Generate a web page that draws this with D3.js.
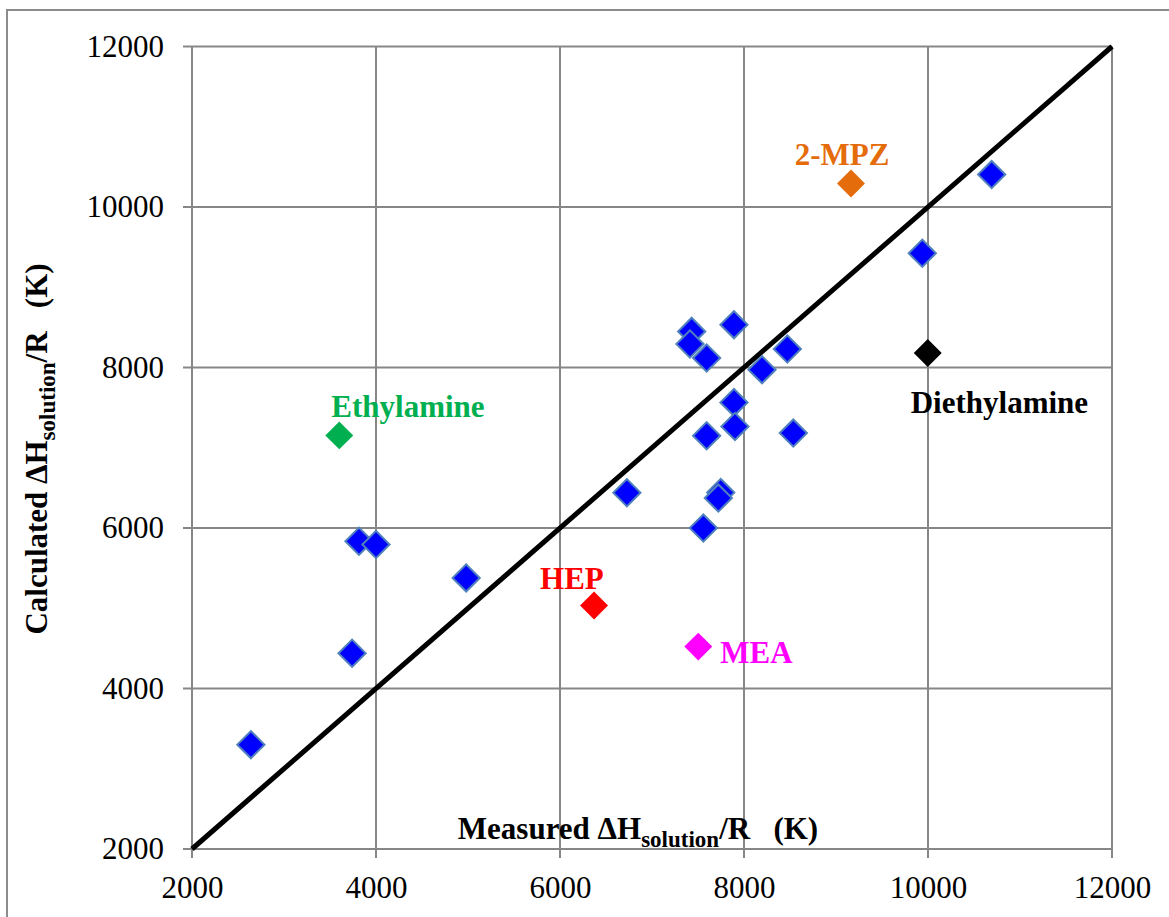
<!DOCTYPE html>
<html>
<head>
<meta charset="utf-8">
<script src="https://cdn.jsdelivr.net/npm/d3@7"></script>
<style>
  html, body { margin: 0; padding: 0; background: #fff; }
  svg { display: block; }
  text { font-family: "Liberation Serif", "Times New Roman", serif; }
</style>
</head>
<body>
<svg id="chart" width="1169" height="917"></svg>
<script>
// Measured vs calculated heat of solution (ΔH/R, K) for the amine set
const measuredBlue   = [2640, 3740, 3815, 4000, 4980, 6727, 7431, 7413, 7594, 7891, 8471, 8196, 7891, 7902, 7594, 8536, 7747, 7721, 7558, 9938, 10692];
const calculatedBlue = [3300, 4440, 5835, 5795, 5378, 6440, 8450, 8293, 8118, 8534, 8231, 7973, 7565, 7266, 7150, 7183, 6443, 6373, 5999, 9423, 10404];

// Highlighted amines
const namedLabels     = ["2-MPZ", "Ethylamine", "Diethylamine", "HEP", "MEA"];
const namedMeasured   = [9163, 3601, 9997, 6370, 7503];
const namedCalculated = [10292, 7154, 8181, 5034, 4522];
const namedColors     = ["#E46C0A", "#00B050", "#000000", "#FF0000", "#FF00FF"];

// Parity line and tick values
const parityLine = [2000, 12000];
const tickValues = [2000, 4000, 6000, 8000, 10000, 12000];

const svg = d3.select("#chart");

// outer chart frame
svg.append("rect")
  .attr("x", 7).attr("y", 10)
  .attr("width", 1200).attr("height", 950)
  .attr("fill", "none").attr("stroke", "#8c8c8c").attr("stroke-width", 2);

const x = d3.scaleLinear().domain([2000, 12000]).range([192, 1112]);
const y = d3.scaleLinear().domain([2000, 12000]).range([849, 46.5]);

const gridColor = "#878787";

// gridlines
svg.append("g").selectAll("line.vgrid").data(tickValues).join("line")
  .attr("x1", d => x(d)).attr("x2", d => x(d))
  .attr("y1", y(12000)).attr("y2", y(2000) + 9)
  .attr("stroke", gridColor).attr("stroke-width", 2);
svg.append("g").selectAll("line.hgrid").data(tickValues).join("line")
  .attr("x1", x(2000) - 9).attr("x2", x(12000))
  .attr("y1", d => y(d)).attr("y2", d => y(d))
  .attr("stroke", gridColor).attr("stroke-width", 2);

// axes (labels only; lines come from the grid)
const xAxis = svg.append("g")
  .attr("transform", `translate(0,${y(2000)})`)
  .call(d3.axisBottom(x).tickValues(tickValues).tickSize(0).tickPadding(27).tickFormat(d3.format("d")));
const yAxis = svg.append("g")
  .attr("transform", `translate(${x(2000)},0)`)
  .call(d3.axisLeft(y).tickValues(tickValues).tickSize(0).tickPadding(28).tickFormat(d3.format("d")));
[xAxis, yAxis].forEach(a => {
  a.select(".domain").remove();
  a.selectAll("text")
    .attr("font-family", "'Liberation Serif', 'Times New Roman', serif")
    .attr("font-size", 31).attr("fill", "#000");
});

// parity line y = x
svg.append("path")
  .datum(parityLine)
  .attr("d", d3.line().x(d => x(d)).y(d => y(d)))
  .attr("stroke", "#000").attr("stroke-width", 5).attr("fill", "none");

// diamond markers
const diamond = d3.symbol().type(d3.symbolSquare).size(370);

svg.append("g").selectAll("path")
  .data(measuredBlue.map((m, i) => [m, calculatedBlue[i]]))
  .join("path")
  .attr("d", diamond)
  .attr("transform", d => `translate(${x(d[0])},${y(d[1])}) rotate(45)`)
  .attr("fill", "#0000FF").attr("stroke", "#4F81BD").attr("stroke-width", 2);

const named = namedLabels.map((n, i) => ({
  name: n, m: namedMeasured[i], c: namedCalculated[i], color: namedColors[i]
}));

svg.append("g").selectAll("path")
  .data(named).join("path")
  .attr("d", d3.symbol().type(d3.symbolSquare).size(390))
  .attr("transform", d => `translate(${x(d.m)},${y(d.c)}) rotate(45)`)
  .attr("fill", d => d.color);

// point labels, offset from their markers
const labelOffset = {
  "2-MPZ":        { dx: -9,  dy: -19, anchor: "middle" },
  "Ethylamine":   { dx: -8,  dy: -18, anchor: "start" },
  "Diethylamine": { dx: -17, dy: 60,  anchor: "start" },
  "HEP":          { dx: -54, dy: -17, anchor: "start" },
  "MEA":          { dx: 22,  dy: 16,  anchor: "start" }
};
svg.append("g").selectAll("text")
  .data(named).join("text")
  .attr("x", d => x(d.m) + labelOffset[d.name].dx)
  .attr("y", d => y(d.c) + labelOffset[d.name].dy)
  .attr("text-anchor", d => labelOffset[d.name].anchor)
  .attr("font-size", 31).attr("font-weight", "bold")
  .attr("fill", d => d.color)
  .text(d => d.name);

// axis titles with subscript
function axisTitle(sel, lead) {
  sel.attr("font-weight", "bold").attr("font-size", 31).attr("fill", "#000");
  sel.append("tspan").text(lead + " \u0394H");
  sel.append("tspan").attr("font-size", 23).attr("dy", 8).text("solution");
  sel.append("tspan").attr("dy", -8).text("/R\u00a0\u00a0\u00a0(K)");
}

axisTitle(svg.append("text")
  .attr("x", 638).attr("y", 839)
  .attr("text-anchor", "middle"), "Measured");

axisTitle(svg.append("text")
  .attr("transform", "translate(47,449) rotate(-90)")
  .attr("text-anchor", "middle"), "Calculated");
</script>
</body>
</html>
